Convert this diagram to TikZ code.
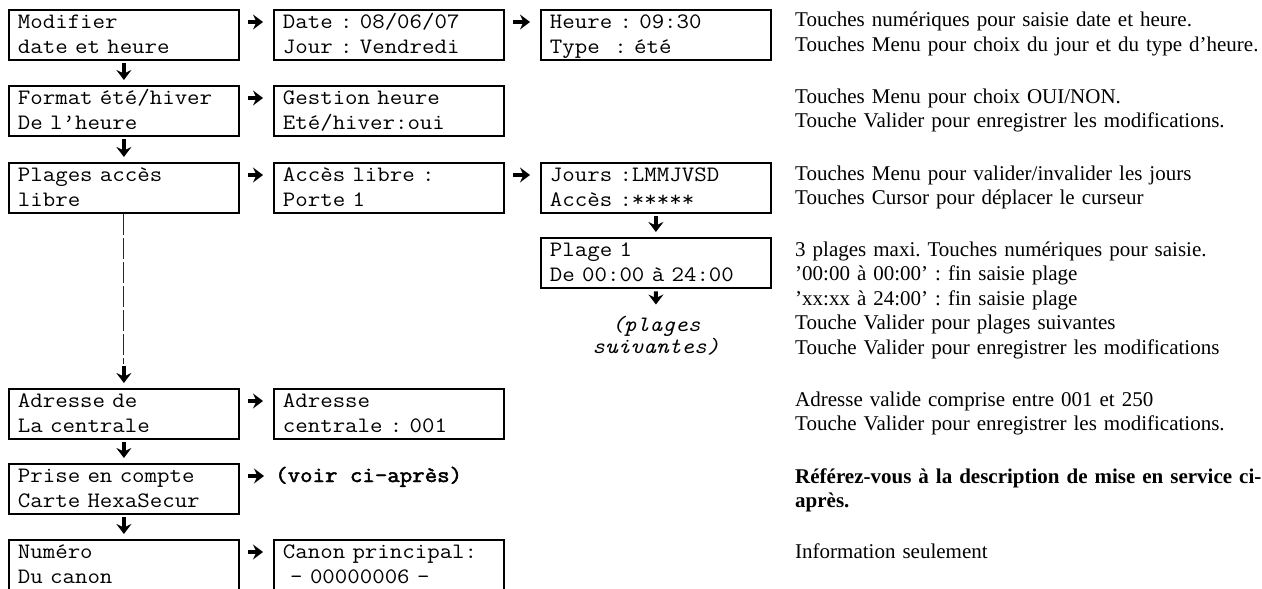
\documentclass[tikz,border=0pt]{standalone}
\usepackage{fontspec}
\setmainfont{Liberation Serif}
\setmonofont{Latin Modern Mono}[FakeStretch=1.1]
\newfontfamily\ttheavy{Latin Modern Mono}[FakeStretch=1.1, FakeBold=2.2]
\usetikzlibrary{arrows.meta}
\frenchspacing

\begin{document}
\begin{tikzpicture}[x=1pt,y=-1pt,
  screen/.style={draw, line width=1.8pt, anchor=north west,
    minimum width=230pt, minimum height=50pt,
    text width=212pt, align=left, inner xsep=9pt, inner ysep=0pt,
    text height=19pt, text depth=31pt,
    font=\ttfamily\fontsize{22}{24.5}\selectfont},
  note/.style={anchor=base west, inner sep=0pt, text width=600pt, align=left,
    font=\fontsize{21}{24.5}\selectfont},
  tip/.style={-{Stealth[length=10pt,width=15pt,inset=3.5pt]}},
  harrow/.style={tip, line width=4pt, shorten <=8pt, shorten >=10pt},
  darrow/.style={tip, line width=4pt, shorten <=2.5pt, shorten >=5pt},
  vbar/.style={line width=0.9pt, black!85, dash pattern=on 21pt off 3pt},
]
\useasboundingbox (0,0) rectangle (1262,589);

% left column: menu entries
\node[screen] (m1) at (8,9)   {Modifier\\date et heure};
\node[screen] (m2) at (8,85)  {Format été/hiver\\De l’heure};
\node[screen] (m3) at (8,162) {Plages accès\\libre};
\node[screen] (m5) at (8,388) {Adresse de\\La centrale};
\node[screen] (m6) at (8,463) {Prise en compte\\Carte HexaSecur};
\node[screen] (m7) at (8,539) {Numéro\\Du canon};

% second column: first screens
\node[screen] (d1) at (273,9)   {Date : 08/06/07\\Jour : Vendredi};
\node[screen] (d2) at (273,85)  {Gestion heure\\Eté/hiver:oui};
\node[screen] (d3) at (273,162) {Accès libre :\\Porte 1};
\node[screen] (d5) at (273,388) {Adresse\\centrale : 001};
\node[anchor=base west, inner sep=0pt, font=\ttheavy\fontsize{22}{24.5}\selectfont]
  (v6) at (275,482) {(voir ci-après)};
\node[screen] (d7) at (273,539) {Canon principal:\\~- 00000006 -};

% third column: follow-up screens
\node[screen] (h1) at (540,9)   {Heure : 09:30\\Type~~: été};
\node[screen] (j3) at (540,162) {Jours :LMMJVSD\\Accès :*****};
\node[screen] (p4) at (540,237) {Plage 1\\De 00:00 à 24:00};
\node[anchor=base, inner sep=0pt, text width=200pt, align=center,
  font=\ttfamily\itshape\fontsize{22}{22}\selectfont]
  (ps) at (656,331) {(plages\\suivantes)};

% explanations
\node[note] (n1) at (795,27)  {Touches numériques pour saisie date et heure.\\Touches Menu pour choix du jour et du type d’heure.};
\node[note] (n2) at (795,103) {Touches Menu pour choix OUI/NON.\\Touche Valider pour enregistrer les modifications.};
\node[note] (n3) at (795,180) {Touches Menu pour valider/invalider les jours\\Touches Cursor pour déplacer le curseur};
\node[note] (n4) at (795,256) {3 plages maxi. Touches numériques pour saisie.\\’00:00 à 00:00’ : fin saisie plage\\’xx:xx à 24:00’ : fin saisie plage\\Touche Valider pour plages suivantes\\Touche Valider pour enregistrer les modifications};
\node[note] (n5) at (795,406) {Adresse valide comprise entre 001 et 250\\Touche Valider pour enregistrer les modifications.};
\node[note, font=\bfseries\fontsize{21}{24.5}\selectfont] (n6) at (795,483) {Référez-vous à la description de mise en service ci-\\après.};
\node[note] (n7) at (795,558) {Information seulement};

% horizontal arrows
\draw[harrow] ([yshift=-13pt]m1.north east) -- ([yshift=-13pt]d1.north west);
\draw[harrow] ([yshift=-13pt]d1.north east) -- ([yshift=-13pt]h1.north west);
\draw[harrow] ([yshift=-13pt]m2.north east) -- ([yshift=-13pt]d2.north west);
\draw[harrow] ([yshift=-13pt]m3.north east) -- ([yshift=-13pt]d3.north west);
\draw[harrow] ([yshift=-13pt]d3.north east) -- ([yshift=-13pt]j3.north west);
\draw[harrow] ([yshift=-13pt]m5.north east) -- ([yshift=-13pt]d5.north west);
\draw[harrow, shorten >=11pt] ([yshift=-13pt]m6.north east) -- ([yshift=-13pt]m6.north east -| v6.west);
\draw[harrow] ([yshift=-13pt]m7.north east) -- ([yshift=-13pt]d7.north west);

% vertical arrows
\draw[darrow] (m1) -- (m2);
\draw[darrow] (m2) -- (m3);
\coordinate (m3end) at (m3.south |- 0,364);
\draw[vbar] (m3.south) -- (m3end);
\draw[darrow, shorten <=2pt] (m3end) -- (m5.north);
\draw[darrow] (m5) -- (m6);
\draw[darrow] (m6) -- (m7);
\draw[darrow] (j3) -- (p4);
\draw[darrow, shorten >=11pt] (p4.south) -- (ps.north);
\end{tikzpicture}
\end{document}
